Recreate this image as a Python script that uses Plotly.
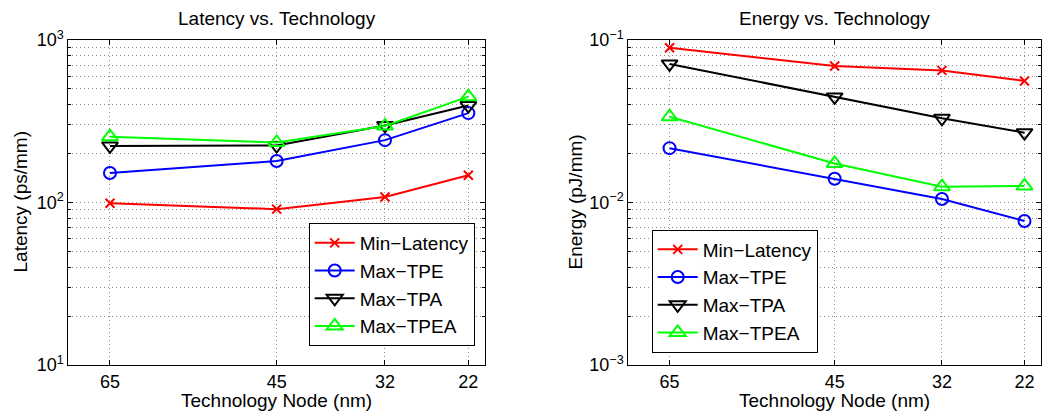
import plotly.graph_objects as go

# ---------------- data ----------------
nodes = [65, 45, 32, 22]
node_ticks = ["65", "45", "32", "22"]
series_names = ["Min\u2212Latency", "Max\u2212TPE", "Max\u2212TPA", "Max\u2212TPEA"]

lat_min = [99, 91, 108, 147]
lat_tpe = [152, 180, 242, 355]
lat_tpa = [223, 224, 298, 395]
lat_tpea = [254, 234, 296, 448]

en_min = [0.0897, 0.0692, 0.065, 0.056]
en_tpe = [0.0216, 0.0140, 0.0105, 0.0077]
en_tpa = [0.0712, 0.0446, 0.033, 0.0269]
en_tpea = [0.0337, 0.0174, 0.0125, 0.01265]

lat_ticks = [10, 100, 1000]
lat_ticktext = ["10<sup>1</sup>", "10<sup>2</sup>", "10<sup>3</sup>"]
en_ticks = [0.001, 0.01, 0.1]
en_ticktext = ["10<sup>\u22123</sup>", "10<sup>\u22122</sup>", "10<sup>\u22121</sup>"]

# ---------------- styles ----------------
FONT = "Liberation Sans, Arial, Helvetica, sans-serif"
styles = [
    dict(color="#ff0000", symbol="x-thin", size=9),
    dict(color="#0000ff", symbol="circle-open", size=12),
    dict(color="#000000", symbol="triangle-down-open", size=14),
    dict(color="#00ff00", symbol="triangle-up-open", size=14),
]

fig = go.Figure()

def add_series(ys_list, xa, ya, legend, prefix):
    for i, (ys, st) in enumerate(zip(ys_list, styles)):
        fig.add_trace(go.Scatter(
            x=nodes, y=ys, mode="lines+markers", name=series_names[i],
            xaxis=xa, yaxis=ya, legend=legend, legendgroup=f"{prefix}{i}",
            line=dict(color=st["color"], width=2),
            marker=dict(symbol=st["symbol"], size=st["size"], color=st["color"],
                        line=dict(color=st["color"], width=2)),
        ))

add_series([lat_min, lat_tpe, lat_tpa, lat_tpea], "x", "y", "legend", "L")
add_series([en_min, en_tpe, en_tpa, en_tpea], "x2", "y2", "legend2", "R")

W, H = 1047, 413
top, bot = 40, 365
ydom = [(H - bot) / H, (H - top) / H]
x1dom = [68.3 / W, 485 / W]
x2dom = [628.3 / W, 1041 / W]

GRIDDASH = "1px,3px"
GRIDCOLOR = "#8c8c8c"
grid = dict(showgrid=True, griddash=GRIDDASH, gridcolor=GRIDCOLOR, gridwidth=1)
common_x = dict(range=[70, 20], tickvals=nodes, ticktext=node_ticks,
                ticks="inside", ticklen=5, tickcolor="black",
                showline=True, linecolor="black", linewidth=1, mirror="ticks",
                zeroline=False, tickfont=dict(family=FONT, size=18, color="black"),
                automargin=False, **grid)

def minor_vals(d0, d1):
    vals = []
    for d in range(d0, d1):
        for k in range(2, 10):
            vals.append(k * 10.0 ** d)
    return vals

def y_axis(rng, tv, tt, dom, anchor):
    return dict(type="log", range=rng, domain=dom, anchor=anchor,
                tickvals=tv, ticktext=tt, ticks="inside", ticklen=5, tickcolor="black",
                showline=True, linecolor="black", linewidth=1, mirror="ticks",
                zeroline=False, tickfont=dict(family=FONT, size=18, color="black"),
                automargin=False,
                minor=dict(tickvals=minor_vals(rng[0], rng[1]), ticks="inside", ticklen=3,
                           tickcolor="black", showgrid=True, griddash=GRIDDASH,
                           gridcolor=GRIDCOLOR, gridwidth=1),
                **grid)

legend_common = dict(xanchor="left", yanchor="top", bordercolor="black", borderwidth=1,
                     bgcolor="white", font=dict(family=FONT, size=19, color="black"),
                     itemwidth=40, tracegroupgap=0)

fig.update_layout(
    width=W, height=H, margin=dict(l=0, r=0, t=0, b=0),
    paper_bgcolor="white", plot_bgcolor="white",
    font=dict(family=FONT, size=19, color="black"),
    xaxis=dict(domain=x1dom, anchor="y", **common_x),
    xaxis2=dict(domain=x2dom, anchor="y2", **common_x),
    yaxis=y_axis([1, 3], lat_ticks, lat_ticktext, ydom, "x"),
    yaxis2=y_axis([-3, -1], en_ticks, en_ticktext, ydom, "x2"),
    legend=dict(x=308.7 / W, y=1 - 223 / H, **legend_common),
    legend2=dict(x=651.7 / W, y=1 - 229.5 / H, **legend_common),
)

def ann(text, x, y, angle=0):
    fig.add_annotation(text=text, x=x / W, y=1 - y / H, xref="paper", yref="paper",
                       showarrow=False, textangle=angle, xanchor="center", yanchor="middle",
                       font=dict(family=FONT, size=19, color="black"))

ann("Latency vs. Technology", (68.3 + 485) / 2, 18)
ann("Energy vs. Technology", (628.3 + 1041) / 2, 18)
ann("Technology Node (nm)", (68.3 + 485) / 2, 400)
ann("Technology Node (nm)", (628.3 + 1041) / 2, 400)
ann("Latency (ps/mm)", 20, (top + bot) / 2, -90)
ann("Energy (pJ/mm)", 575, (top + bot) / 2, -90)

fig.write_html("out.html")
